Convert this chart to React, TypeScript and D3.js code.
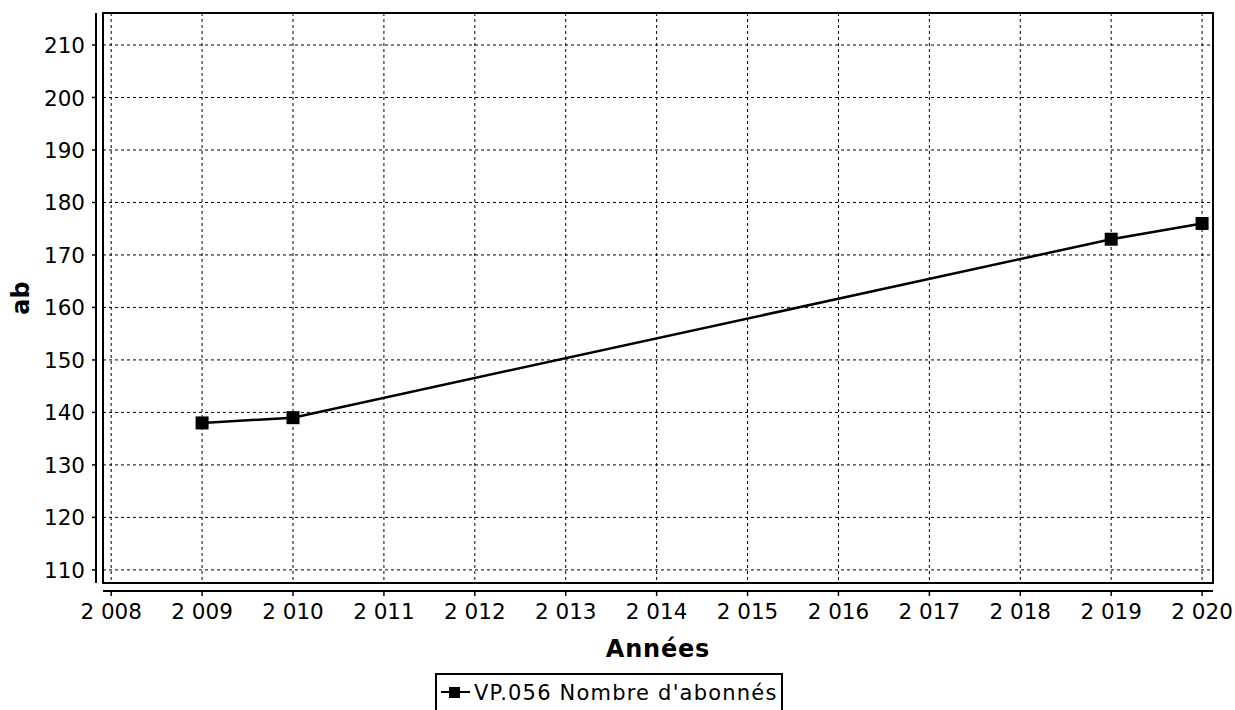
import * as d3 from 'd3'

const YEARS = [2009, 2010, 2019, 2020]
const SUBSCRIBERS = [138, 139, 173, 176]
const X_TICKS = [2008, 2009, 2010, 2011, 2012, 2013, 2014, 2015, 2016, 2017, 2018, 2019, 2020]
const Y_TICKS = [110, 120, 130, 140, 150, 160, 170, 180, 190, 200, 210]
const SERIES_LABEL = "VP.056 Nombre d'abonnés"
const X_TITLE = 'Années'
const Y_TITLE = 'ab'

const WIDTH = 1235
const HEIGHT = 710
const PLOT = { left: 103, right: 1213, top: 13, bottom: 583 }
const FONT = '"DejaVu Sans", Verdana, sans-serif'

const formatYear = (v: number) => {
  const s = String(v)
  return `${s.slice(0, 1)} ${s.slice(1)}`
}

export default function App() {
  const x = d3.scaleLinear().domain([2007.91, 2020.12]).range([PLOT.left, PLOT.right])
  const y = d3.scaleLinear().domain([107.5, 216.1]).range([PLOT.bottom, PLOT.top])
  const points = YEARS.map((year, i) => ({ year, value: SUBSCRIBERS[i] }))
  const line = d3
    .line<{ year: number; value: number }>()
    .x((d) => x(d.year))
    .y((d) => y(d.value))
  const yAxisX = PLOT.left - 7
  const xAxisY = PLOT.bottom + 8

  return (
    <svg
      width={WIDTH}
      height={HEIGHT}
      style={{ position: 'absolute', left: 0, top: 0, background: '#fff' }}
      fontFamily={FONT}
    >
      <rect x={0} y={0} width={WIDTH} height={HEIGHT} fill="#fff" />

      {Y_TICKS.map((t) => (
        <line
          key={`gy${t}`}
          x1={PLOT.left}
          x2={PLOT.right}
          y1={y(t)}
          y2={y(t)}
          stroke="#000"
          strokeWidth={1}
          strokeDasharray="3 3"
        />
      ))}
      {X_TICKS.map((t) => (
        <line
          key={`gx${t}`}
          x1={x(t)}
          x2={x(t)}
          y1={PLOT.top}
          y2={PLOT.bottom}
          stroke="#000"
          strokeWidth={1}
          strokeDasharray="3 3"
        />
      ))}

      <rect
        x={PLOT.left}
        y={PLOT.top}
        width={PLOT.right - PLOT.left}
        height={PLOT.bottom - PLOT.top}
        fill="none"
        stroke="#000"
        strokeWidth={2}
      />

      {/* y axis */}
      <line x1={yAxisX} x2={yAxisX} y1={PLOT.top} y2={PLOT.bottom} stroke="#000" strokeWidth={2} />
      {Y_TICKS.map((t) => (
        <g key={`ty${t}`}>
          <line x1={yAxisX - 4} x2={yAxisX} y1={y(t)} y2={y(t)} stroke="#000" strokeWidth={1.5} />
          <text x={yAxisX - 11} y={y(t) + 8} textAnchor="end" fontSize={21.5} fill="#000">
            {t}
          </text>
        </g>
      ))}

      {/* x axis */}
      <line x1={PLOT.left} x2={PLOT.right} y1={xAxisY} y2={xAxisY} stroke="#000" strokeWidth={2} />
      {X_TICKS.map((t) => (
        <g key={`tx${t}`}>
          <line x1={x(t)} x2={x(t)} y1={xAxisY} y2={xAxisY + 5} stroke="#000" strokeWidth={1.5} />
          <text x={x(t)} y={xAxisY + 28} textAnchor="middle" fontSize={21.5} fill="#000">
            {formatYear(t)}
          </text>
        </g>
      ))}

      <text
        x={(PLOT.left + PLOT.right) / 2}
        y={657}
        textAnchor="middle"
        fontSize={24}
        fontWeight="bold"
        letterSpacing={0.8}
        fill="#000"
      >
        {X_TITLE}
      </text>
      <text
        transform={`translate(29, ${(PLOT.top + PLOT.bottom) / 2}) rotate(-90)`}
        textAnchor="middle"
        fontSize={24}
        fontWeight="bold"
        fill="#000"
      >
        {Y_TITLE}
      </text>

      <path d={line(points) ?? undefined} fill="none" stroke="#000" strokeWidth={2.5} />
      {points.map((p) => (
        <rect
          key={p.year}
          x={x(p.year) - 6.5}
          y={y(p.value) - 6.5}
          width={13}
          height={13}
          fill="#000"
        />
      ))}

      {/* legend */}
      <g transform="translate(436, 674)">
        <rect x={0} y={0} width={346} height={44} fill="#fff" stroke="#000" strokeWidth={2} />
        <line x1={5} x2={34} y1={18} y2={18} stroke="#000" strokeWidth={2} />
        <rect x={13} y={13} width={11} height={11} fill="#000" />
        <text x={38} y={26} fontSize={21} letterSpacing={1.2} fill="#000">
          {SERIES_LABEL}
        </text>
      </g>
    </svg>
  )
}
